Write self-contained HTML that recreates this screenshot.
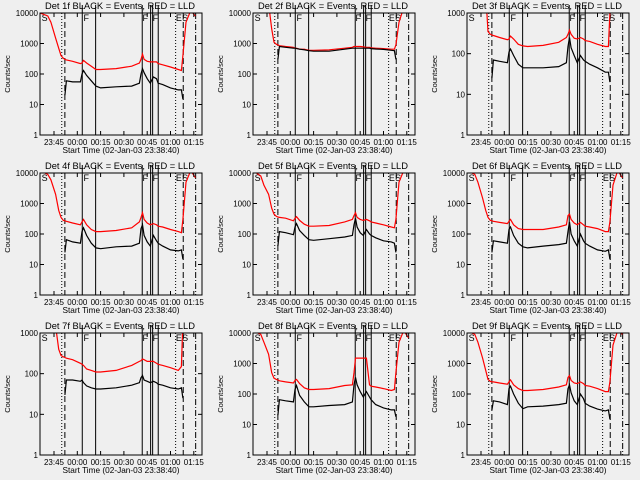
<!DOCTYPE html>
<html><head><meta charset="utf-8"><style>
html,body{margin:0;padding:0;background:#efefef;}
svg{display:block;font-family:"Liberation Sans",sans-serif;}
</style></head><body>
<svg id="chart" width="640" height="480" viewBox="0 0 640 480" xmlns="http://www.w3.org/2000/svg">
<rect x="0" y="0" width="640" height="480" fill="#efefef"/>
</svg>
<script>
// time in minutes relative to 23:45
const T = [-9,-4,-2,1,3,4.5,6,7,8,12,17,18,19,21,24,27,30,40,50,55,56,57,58,60,62,64,66,67,70,75,80,82,83,85,88,91];
const N = null;
const red1 = [10000,8000,5000,1500,700,400,330,300,290,260,220,230,280,230,180,140,140,150,180,230,300,450,300,260,250,250,250,220,200,170,140,130,400,5000,12000,8000];
const blk1 = [N,N,N,N,N,N,N,20,60,55,55,100,130,90,60,40,35,38,40,50,100,150,110,70,50,80,70,50,45,35,30,30,15,N,N,N];
const red2 = [20000,20000,20000,20000,3000,1100,950,900,850,800,750,700,700,650,650,600,600,620,700,750,800,800,800,800,780,750,750,720,700,680,650,650,900,5000,15000,15000];
const blk2 = [N,N,N,N,N,N,N,300,800,750,700,700,680,650,620,580,560,560,650,700,700,700,700,700,700,700,700,680,660,640,600,580,300,N,N,N];
const red3 = [5000,5000,5000,5000,3000,350,300,290,280,250,220,230,270,230,170,155,150,160,190,250,300,380,300,240,230,250,230,210,200,170,150,150,1000,5000,5000,5000];
const blk3 = [N,N,N,N,N,N,N,25,70,65,60,110,130,90,55,45,45,45,48,60,150,250,140,90,60,90,70,65,55,45,35,35,20,N,N,N];
const red4 = [12000,9000,6000,2000,600,350,280,270,260,230,200,250,300,200,140,120,120,130,160,250,350,500,300,230,200,220,200,180,170,140,120,110,300,5000,12000,7000];
const blk4 = [N,N,N,N,N,N,N,25,65,55,50,120,160,90,50,35,33,38,40,50,150,200,90,55,40,90,60,50,40,30,28,30,15,N,N,N];
const red5 = [12000,8000,4000,2000,700,450,380,360,350,330,270,330,370,280,210,180,180,190,250,300,400,500,350,300,280,300,270,250,230,200,170,160,300,5000,12000,10000];
const blk5 = [N,N,N,N,N,N,N,40,120,110,95,170,220,130,90,65,62,70,80,90,200,330,170,110,90,140,100,90,75,60,55,50,25,N,N,N];
const red6 = [12000,9000,5000,1500,600,350,280,270,260,240,220,260,300,200,150,140,140,140,170,200,400,450,300,230,200,240,200,180,170,150,120,120,250,4000,12000,7000];
const blk6 = [N,N,N,N,N,N,N,25,60,55,50,140,170,90,50,38,35,40,45,50,120,250,100,60,40,100,60,50,40,30,27,30,15,N,N,N];
const red7 = [5000,5000,5000,1500,400,280,260,250,240,220,180,170,160,130,120,110,110,120,160,200,210,230,220,200,200,200,180,170,160,140,120,150,2000,5000,5000,5000];
const blk7 = [N,N,N,N,N,N,N,30,70,70,65,70,60,50,45,42,42,45,52,60,80,90,70,65,60,65,60,55,52,45,42,45,25,N,N,N];
const red8 = [12000,9000,5000,2000,500,330,300,290,270,250,230,280,300,220,160,140,140,150,190,200,500,1500,1500,1500,1500,1500,200,180,170,150,130,140,500,5000,12000,7000];
const blk8 = [N,N,N,N,N,N,N,20,65,60,55,140,190,90,55,38,38,42,45,55,200,350,200,120,80,120,80,65,45,35,30,30,18,N,N,N];
const red9 = [12000,9000,5000,1500,600,300,260,250,250,230,210,250,290,200,150,130,130,140,170,200,350,400,280,230,220,250,220,190,180,150,120,120,250,4000,12000,9000];
const blk9 = [N,N,N,N,N,N,N,30,60,55,45,150,180,100,50,33,38,40,45,50,150,200,110,60,45,100,70,50,40,32,28,30,15,N,N,N];
const detNames = ["1f","2f","3f","4f","5f","6f","7f","8f","9f"];
const decades = [4,4,3,4,4,4,3,4,4];
const xTickLabels = ["23:45","00:00","00:15","00:30","00:45","01:00","01:15"];
const xTickTimes = [0,15,30,45,60,75,90];
const markerTimes = [5,7,18.2,26.8,56.8,62.2,63.5,67.1,78.3,83.2,91.2];
const markerStyles = ["dot","dash","solid","solid","solid","solid","solid","solid","dot","dash","dashdot"];
const flagLetters = ["S","F","F","F","E","S"];
const flagTimes = [-8,19,57,63.5,78.5,82.5];

const reds=[red1,red2,red3,red4,red5,red6,red7,red8,red9];
const blks=[blk1,blk2,blk3,blk4,blk5,blk6,blk7,blk8,blk9];
const svg=document.getElementById('chart');
const NS="http://www.w3.org/2000/svg";
function mk(tag,attrs,parent){const e=document.createElementNS(NS,tag);for(const k in attrs)e.setAttribute(k,attrs[k]);(parent||svg).appendChild(e);return e;}
const colX=[0,213,427], rowY=[13,173,333];
const BX0=40,BX1=202,BH=122;
for(let p=0;p<9;p++){
  const ox=colX[p%3], top=rowY[Math.floor(p/3)], bot=top+BH;
  const nd=decades[p];
  const g=mk('g',{});
  
  
  const xs=t=>ox+54+t*23.3/15;
  const ys=v=>bot-Math.log10(v)*BH/nd;
  const cid='clip'+p;
  const cp=mk('clipPath',{id:cid},g);
  mk('rect',{x:ox+BX0,y:top,width:BX1-BX0,height:BH},cp);
  const ti=mk('text',{x:ox+120,y:top-4,'font-size':'9','text-anchor':'middle',fill:'#000',textLength:'150',lengthAdjust:'spacingAndGlyphs'},g);
  ti.textContent='Det '+detNames[p]+' BLACK = Events, RED = LLD';
  
  
  for(let i=0;i<markerTimes.length;i++){
    const x=xs(markerTimes[i]);
    const st=markerStyles[i];
    const dash=st==='dot'?'1,2':st==='dash'?'6,3':st==='dashdot'?'6,2,1,2':'none';
    const y0=st==='solid'?top-8:top;
    const ln=mk('line',{x1:x,x2:x,y1:y0,y2:bot,stroke:'#000','stroke-width':'1','stroke-dasharray':dash},g);
    
    
  }
  for(let i=0;i<flagLetters.length;i++){
    const ft=mk('text',{x:xs(flagTimes[i]),y:top+8,'font-size':'9',fill:'#000'},g);
    ft.textContent=flagLetters[i];
    
    
  }
  const path=arr=>{let d='',pen=false;for(let i=0;i<T.length;i++){if(arr[i]==null){pen=false;continue;}d+=(pen?'L':'M')+xs(T[i]).toFixed(1)+','+ys(arr[i]).toFixed(1);pen=true;}return d;};
  const rl=mk('path',{d:path(reds[p]),fill:'none',stroke:'#ff0000','stroke-width':'1.2','clip-path':'url(#'+cid+')'},g);
  
  
  const bl=mk('path',{d:path(blks[p]),fill:'none',stroke:'#000','stroke-width':'1.2','clip-path':'url(#'+cid+')'},g);
  
  
  const bx=mk('rect',{x:ox+BX0,y:top,width:BX1-BX0,height:BH,fill:'none',stroke:'#000','stroke-width':'1'},g);
  
  
  for(let d=0;d<=nd;d++){
    const y=bot-d*BH/nd;
    mk('line',{x1:ox+BX0,x2:ox+BX0+4,y1:y,y2:y,stroke:'#000'},g);
    mk('line',{x1:ox+BX1-4,x2:ox+BX1,y1:y,y2:y,stroke:'#000'},g);
    const yl=mk('text',{x:ox+BX0-2,y:y+3,'font-size':'8','text-anchor':'end',fill:'#000'},g);
    yl.textContent=String(Math.pow(10,d));
    
    
  }
  for(let i=0;i<xTickTimes.length;i++){
    const x=xs(xTickTimes[i]);
    mk('line',{x1:x,x2:x,y1:bot,y2:bot-4,stroke:'#000'},g);
    mk('line',{x1:x,x2:x,y1:top,y2:top+4,stroke:'#000'},g);
    const xl=mk('text',{x:x,y:bot+10,'font-size':'8','text-anchor':'middle',fill:'#000'},g);
    xl.textContent=xTickLabels[i];
    
    
  }
  const xt=mk('text',{x:ox+121,y:bot+18,'font-size':'8.5','text-anchor':'middle',fill:'#000',textLength:'117',lengthAdjust:'spacingAndGlyphs'},g);
  xt.textContent='Start Time (02-Jan-03 23:38:40)';
  
  
  const yt=mk('text',{x:0,y:0,'font-size':'7.5','text-anchor':'middle',fill:'#000',transform:'translate('+(ox+10)+','+(top+BH/2)+') rotate(-90)'},g);
  yt.textContent='Counts/sec';
  
  
}
</script>
</body></html>
